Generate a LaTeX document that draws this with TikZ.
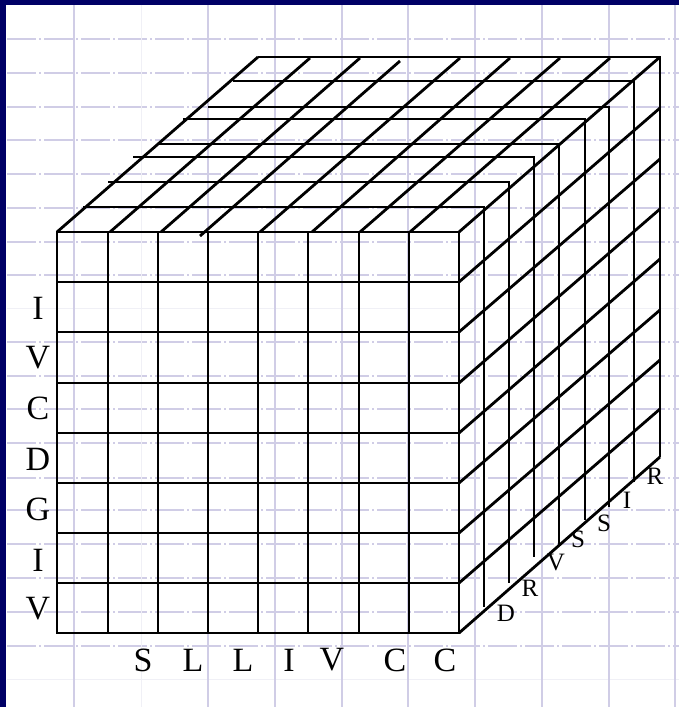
\documentclass[tikz,border=0pt]{standalone}
\usepackage{fontspec}
\setmainfont{Liberation Serif}
\definecolor{navyb}{RGB}{0,0,102}
\definecolor{gridc}{RGB}{208,205,230}
\definecolor{gridf}{RGB}{240,240,246}
\tikzset{
  cube/.style={line width=2.8pt, black, line join=miter},
  gridh/.style={gridc, line width=1.1pt, dash pattern=on 29pt off 3pt on 2pt off 3pt},
  gridhf/.style={gridf, line width=1.0pt},
  gridv/.style={gridc, line width=1.1pt},
  gridvf/.style={gridf, line width=1.0pt},
  biglab/.style={font=\fontsize{34}{34}\selectfont, inner sep=0pt, anchor=center},
  smalllab/.style={font=\fontsize{25}{25}\selectfont, inner sep=0pt, anchor=center},
}
\begin{document}
\begin{tikzpicture}[x=1pt,y=-1pt]
\useasboundingbox (0,0) rectangle (679,707);
\fill[white] (0,0) rectangle (679,707);
% background grid
\foreach \y in {39,73,107,140,174,208,242,275,342,376,409,443,478,510,544,578,612,646}
  \draw[gridh] (7,\y) -- (679,\y);
\foreach \y in {308,679}
  \draw[gridhf] (7,\y) -- (679,\y);
\foreach \x in {74,208,275,342,408,475,542,609,675}
  \draw[gridv] (\x,5) -- (\x,707);
\draw[gridvf] (141,5) -- (141,707);
% border
\fill[navyb] (0,0) rectangle (6,707);
\fill[navyb] (0,0) rectangle (679,5);
% front face
\draw[cube] (57,232) rectangle (459,633);
\foreach \x in {108,158,208,258,308,359,409}
  \draw[cube] (\x,232) -- (\x,633);
\foreach \y in {282,332,383,433,483,533,583}
  \draw[cube] (57,\y) -- (459,\y);
% top face horizontals with right face verticals
\foreach \y/\l/\r/\b in {57/258/660/457, 81/233/634/482, 107/208/609/507, 119/183/585/520,
                         144/158/559/544, 157/133/534/557, 182/108/509/583, 207/83/484/607}
  \draw[cube] (\l,\y) -- (\r,\y) -- (\r,\b);
% top face diagonals
\foreach \a/\b/\c/\d in {57/232/258/57, 110/232/310/58, 161/232/360/58, 200/236/400/61,
                         260/232/460/58, 312/232/510/58, 360/232/560/58, 410/232/610/58,
                         459/232/660/57}
  \draw[cube] (\a,\b) -- (\c,\d);
% right face diagonals
\foreach \s/\e in {282/108, 332/159, 383/209, 433/259, 483/310, 533/360, 583/409, 633/457}
  \draw[cube] (459,\s) -- (660,\e);
% left labels
\node[biglab] (l1) at (38,308) {I};
\node[biglab] (l2) at (38,358) {V};
\node[biglab] (l3) at (38,408) {C};
\node[biglab] (l4) at (38,459) {D};
\node[biglab] (l5) at (38,509) {G};
\node[biglab] (l6) at (38,560) {I};
\node[biglab] (l7) at (38,609) {V};
% bottom labels
\node[biglab] (b1) at (143,660) {S};
\node[biglab] (b2) at (193,660) {L};
\node[biglab] (b3) at (243,660) {L};
\node[biglab] (b4) at (289,660) {I};
\node[biglab] (b5) at (332,660) {V};
\node[biglab] (b6) at (395,660) {C};
\node[biglab] (b7) at (445,660) {C};
% depth labels
\node[smalllab] (d1) at (506,613) {D};
\node[smalllab] (d2) at (530,588) {R};
\node[smalllab] (d3) at (556,562) {V};
\node[smalllab] (d4) at (578,539) {S};
\node[smalllab] (d5) at (604,523) {S};
\node[smalllab] (d6) at (627,500) {I};
\node[smalllab] (d7) at (655,476) {R};
\end{tikzpicture}
\end{document}
